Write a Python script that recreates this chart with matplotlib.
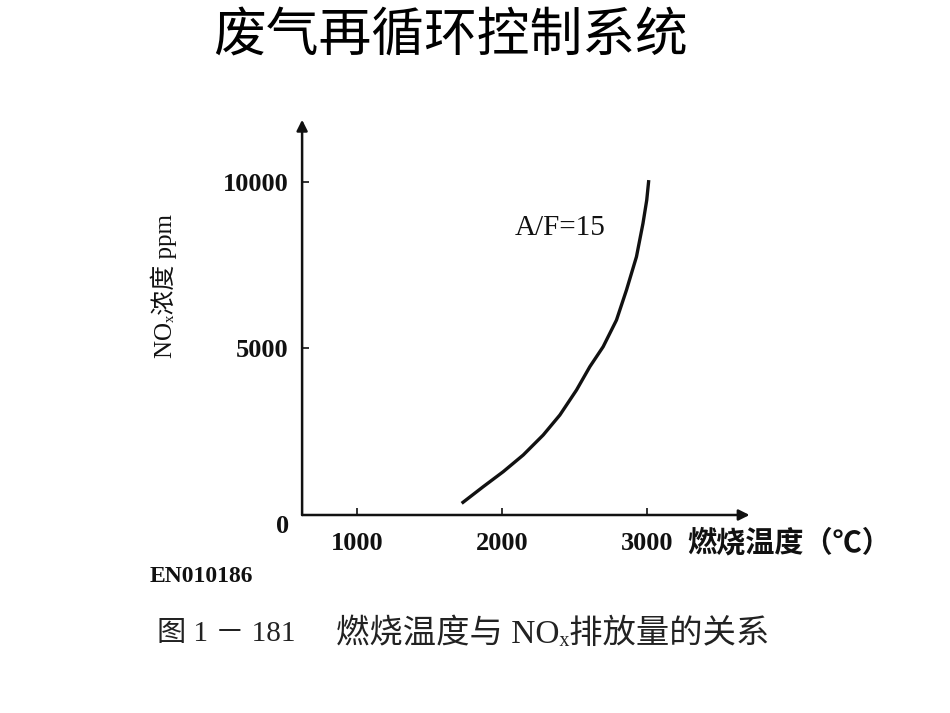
import numpy as np
import matplotlib.pyplot as plt

plt.rcParams['font.family'] = ['Liberation Serif', 'Noto Sans CJK SC', 'DejaVu Sans']

# curve: combustion temperature (C) vs NOx (ppm)
temp = [1722, 1871, 2009, 2147, 2285, 2400, 2515, 2607, 2699, 2791, 2860, 2929, 2974, 3000, 3014]
nox = [350, 850, 1300, 1800, 2400, 3000, 3750, 4450, 5050, 5850, 6750, 7750, 8750, 9450, 10050]

x_ticks = [1000, 2000, 3000]
y_ticks = [5000, 10000]

fig = plt.figure(figsize=(9.5, 7.13), dpi=100)
ax = fig.add_axes([0.318, 0.2777, 0.471, 0.5543])

ink = '#111111'
ax.plot(temp, nox, color=ink, linewidth=2.4, solid_capstyle='butt', solid_joinstyle='round')

ax.set_xlim(620, 3710)
ax.set_ylim(0, 11860)

for s in ax.spines.values():
    s.set_visible(False)

# axes with arrow heads
ax.annotate('', xy=(0, 1), xytext=(0, 0), xycoords='axes fraction',
            arrowprops=dict(arrowstyle='-|>', lw=1.8, color=ink, mutation_scale=16, shrinkA=0, shrinkB=0))
ax.annotate('', xy=(1, 0), xytext=(0, 0), xycoords='axes fraction',
            arrowprops=dict(arrowstyle='-|>', lw=1.8, color=ink, mutation_scale=16, shrinkA=0, shrinkB=0))

ax.set_xticks(x_ticks)
ax.set_yticks(y_ticks)
ax.tick_params(axis='both', direction='in', length=5, width=1.2, color=ink,
               labelsize=19, labelcolor=ink)
ax.tick_params(axis='x', pad=12)
ax.tick_params(axis='y', pad=10)
for lab in ax.get_xticklabels() + ax.get_yticklabels():
    lab.set_fontweight('bold')

ax.text(-0.03, 0.0, '0', transform=ax.transAxes, ha='right', va='top',
        fontsize=19, fontweight='bold', color=ink)
ax.text(0.86, -0.07, '燃烧温度（℃）', transform=ax.transAxes, ha='left', va='center',
        fontsize=21, fontweight='bold', color=ink, family=['Noto Sans CJK SC'])

ax.set_ylabel('NOₓ浓度 ppm', fontsize=18, color=ink)
ax.yaxis.label.set_family(['Liberation Serif', 'Noto Sans CJK SC', 'DejaVu Sans'])
ax.yaxis.set_label_coords(-0.28, 0.58)

ax.text(2090, 8620, 'A/F=15', fontsize=21, color=ink, ha='left', va='center')

fig.text(0.474, 0.951, '废气再循环控制系统', fontsize=38, ha='center', va='center',
         family=['Noto Sans CJK SC'], color='black')
fig.text(0.158, 0.191, 'EN010186', fontsize=17, fontweight='bold', ha='left', va='center',
         color=ink)
fig.text(0.165, 0.111, '图 1 － 181', fontsize=21, ha='left', va='center', color='#222222')
fig.text(0.354, 0.111, '燃烧温度与 NOₓ排放量的关系', fontsize=24, ha='left', va='center',
         color='#222222')

fig.savefig('out.png', dpi=100)
